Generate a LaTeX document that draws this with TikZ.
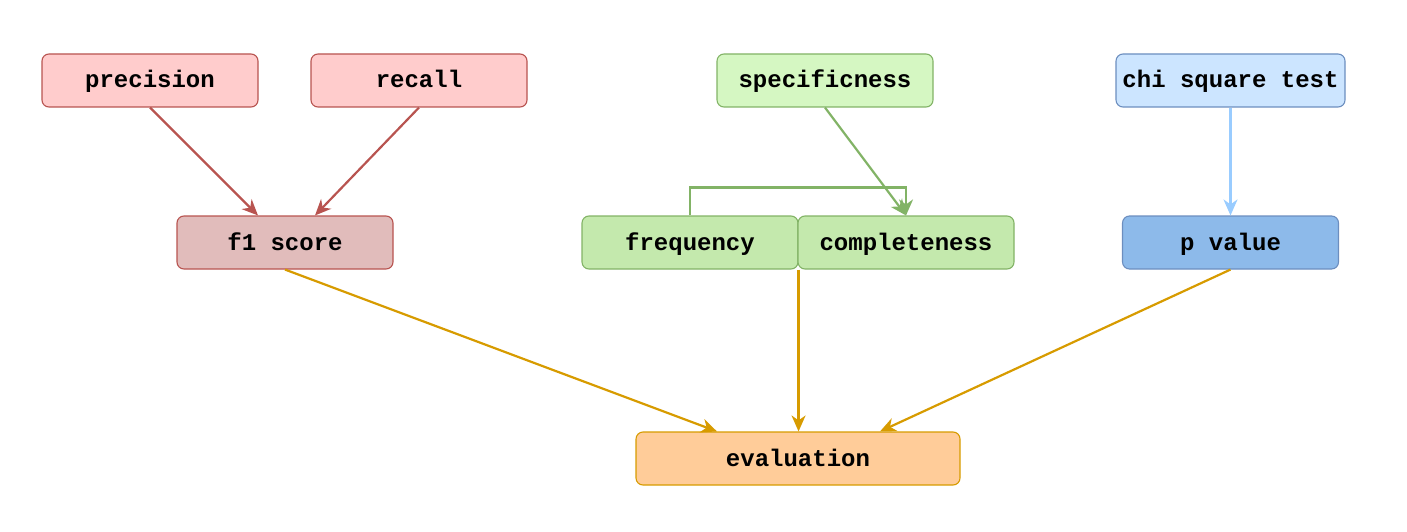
\documentclass[tikz,border=0pt]{standalone}
\usepackage{fontspec}
\setmonofont{Liberation Mono}
\usetikzlibrary{arrows.meta}
\definecolor{redfill}{HTML}{FFCCCC}
\definecolor{redline}{HTML}{B85450}
\definecolor{f1fill}{HTML}{E1BCBB}
\definecolor{greenfill}{HTML}{D5F7C2}
\definecolor{greenfilltwo}{HTML}{C4E9AD}
\definecolor{greenline}{HTML}{82B366}
\definecolor{bluefill}{HTML}{CCE5FF}
\definecolor{bluefilltwo}{HTML}{8DBAEA}
\definecolor{blueline}{HTML}{6C8EBF}
\definecolor{bluearrow}{HTML}{99CCFF}
\definecolor{orangefill}{HTML}{FFCC99}
\definecolor{orangeline}{HTML}{D79B00}
\tikzset{
  box/.style={draw, line width=1.1pt, rounded corners=7pt, minimum height=53pt,
    minimum width=216pt, inner sep=0pt, text height=15pt, text depth=0pt,
    font=\fontsize{24}{26}\selectfont\ttfamily\bfseries},
  redbox/.style={box, fill=redfill, draw=redline},
  greenbox/.style={box, fill=greenfill, draw=greenline},
  bluebox/.style={box, fill=bluefill, draw=blueline},
  conn/.style={line width=2.2pt, -{Stealth[length=16pt,width=14pt,inset=5pt]}},
}
\begin{document}
\begin{tikzpicture}[x=1pt,y=-1pt]
\useasboundingbox (0,0) rectangle (1407,532);
\node[redbox] (prec) at (150,80.5) {precision};
\node[redbox] (rec) at (419,80.5) {recall};
\node[greenbox] (spec) at (825,80.5) {specificness};
\node[bluebox, minimum width=229pt] (chi) at (1230.5,80.5) {chi square test};
\node[redbox, fill=f1fill] (f1) at (285,242.5) {f1 score};
\node[greenbox, fill=greenfilltwo] (freq) at (690,242.5) {frequency};
\node[greenbox, fill=greenfilltwo] (comp) at (906,242.5) {completeness};
\node[bluebox, fill=bluefilltwo] (pval) at (1230.5,242.5) {p value};
\node[box, fill=orangefill, draw=orangeline, minimum width=324pt] (eval) at (798,458.5) {evaluation};

\draw[conn, redline] (prec.south) -- (f1.north -| 258,0);
\draw[conn, redline] (rec.south) -- (f1.north -| 315,0);
\draw[conn, greenline] (spec.south) -- (comp.north);
\draw[conn, greenline] (freq.north) -- ++(0,-28) -| (comp.north);
\draw[conn, bluearrow] (chi.south) -- (pval.north);
\draw[conn, orangeline] (f1.south) -- (eval.north -| 717,0);
\draw[conn, orangeline] (freq.south east) -- (eval.north -| freq.east);
\draw[conn, orangeline] (pval.south) -- (eval.north -| 880,0);
\end{tikzpicture}
\end{document}
